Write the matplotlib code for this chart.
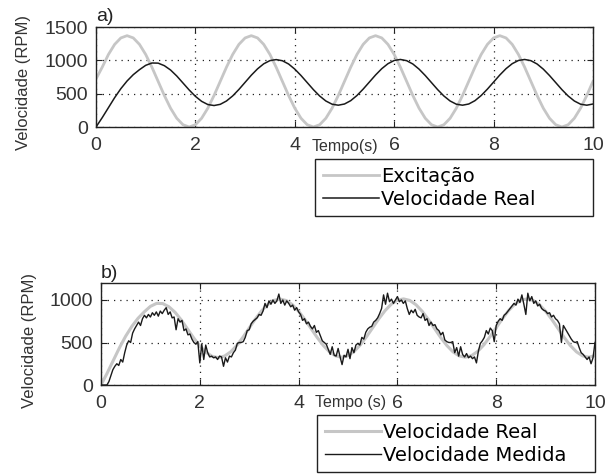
import numpy as np
import matplotlib
matplotlib.use("Agg")
import matplotlib.pyplot as plt
from matplotlib.transforms import blended_transform_factory

# ---- data -------------------------------------------------------------
tempo_a = np.linspace(0, 10, 81)          # 0.125 s sampling

excitacao = [
    720, 897, 1088, 1239, 1336, 1370, 1336, 1239, 1088, 897,
    685, 473, 282, 131, 34, 0, 34, 131, 282, 473,
    685, 897, 1088, 1239, 1336, 1370, 1336, 1239, 1088, 897,
    685, 473, 282, 131, 34, 0, 34, 131, 282, 473,
    685, 897, 1088, 1239, 1336, 1370, 1336, 1239, 1088, 897,
    685, 473, 282, 131, 34, 0, 34, 131, 282, 473,
    685, 897, 1088, 1239, 1336, 1370, 1336, 1239, 1088, 897,
    685, 473, 282, 131, 34, 0, 34, 131, 282, 473,
    685,
]

velocidade_real = [
    0, 140, 290, 440, 575, 690, 785, 860, 925, 960,
    958, 920, 855, 765, 660, 555, 460, 385, 337, 322,
    340, 390, 466, 563, 670, 777, 872, 948, 996, 1011,
    994, 945, 868, 772, 666, 560, 465, 390, 342, 327,
    345, 395, 472, 568, 674, 780, 875, 950, 998, 1013,
    995, 945, 868, 772, 666, 560, 465, 390, 342, 327,
    345, 395, 472, 568, 674, 780, 875, 950, 998, 1013,
    995, 945, 868, 772, 666, 560, 465, 390, 342, 327,
    345,
]

tempo_b = np.linspace(0, 10, 251)         # 0.04 s sampling

velocidade_medida = [
    0, 0, 0, 0, 40, 110, 180, 220, 250, 230, 300, 270, 380, 470, 520, 500, 610, 660, 700, 740, 700, 780, 820, 790, 830,
    800, 850, 820, 860, 810, 870, 840, 880, 910, 830, 860, 790, 800, 650, 780, 740, 760, 640, 660, 590, 600, 540, 500, 480, 510,
    260, 480, 300, 470, 380, 330, 340, 320, 330, 300, 340, 330, 220, 320, 270, 340, 330, 380, 410, 490, 500, 500, 510, 560, 640,
    650, 720, 750, 770, 790, 830, 820, 870, 960, 910, 990, 950, 1000, 960, 990, 1070, 960, 1000, 940, 990, 960, 920, 940, 880, 910,
    860, 830, 760, 780, 720, 740, 690, 660, 700, 620, 640, 580, 520, 500, 480, 420, 360, 450, 350, 340, 430, 330, 240, 350, 330,
    420, 310, 440, 380, 470, 490, 470, 560, 540, 620, 660, 680, 690, 740, 760, 790, 840, 900, 1060, 950, 1080, 980, 1010, 960, 1000,
    1040, 980, 1000, 960, 990, 900, 830, 880, 850, 890, 820, 800, 790, 840, 760, 780, 700, 740, 700, 710, 660, 640, 590, 620, 530,
    510, 500, 500, 510, 380, 440, 340, 450, 360, 330, 370, 320, 340, 310, 330, 260, 400, 490, 520, 560, 640, 600, 670, 640, 510,
    700, 750, 780, 760, 820, 840, 870, 900, 930, 960, 940, 1010, 970, 1060, 950, 830, 1080, 990, 1040, 960, 990, 930, 950, 900, 880,
    870, 840, 850, 800, 820, 780, 760, 720, 500, 700, 660, 620, 580, 540, 510, 500, 510, 440, 380, 360, 330, 300, 330, 250, 320,
    500,
]

x_ticks = [0, 2, 4, 6, 8, 10]
y_ticks_a = [0, 500, 1000, 1500]
y_ticks_b = [0, 500, 1000]

# ---- styling ------------------------------------------------------------
GRAY = "#c6c6c6"
DARK = "#1a1a1a"
EDGE = "#222222"
LABEL = "#333333"
TICK_FONT = "Liberation Sans"
LEGEND_FONT = {"family": "DejaVu Sans", "size": 14}

fig = plt.figure(figsize=(6.14, 4.74), dpi=100)
W, H = 614.0, 474.0


def px_axes(left, top, right, bottom):
    return fig.add_axes([left / W, 1 - bottom / H, (right - left) / W, (bottom - top) / H])


def style(ax, yticks, ylim):
    ax.set_xlim(0, 10)
    ax.set_ylim(*ylim)
    ax.set_xticks(x_ticks)
    ax.set_yticks(yticks)
    ax.tick_params(direction="in", length=4, width=0.8, top=True, right=True,
                   labelsize=14, color=EDGE, labelcolor=LABEL)
    ax.tick_params(axis="x", pad=7)
    ax.tick_params(axis="y", pad=6)
    for lab in ax.get_xticklabels() + ax.get_yticklabels():
        lab.set_fontfamily(TICK_FONT)
    ax.grid(True, color=EDGE, linestyle=(0, (1, 4)), linewidth=0.9)
    for s in ax.spines.values():
        s.set_linewidth(1.0)
        s.set_color(EDGE)


def legend(ax, left, top):
    ax.legend(loc="upper left", bbox_to_anchor=(left / W, 1 - top / H - 0.2, 278 / W, 0.2),
              bbox_transform=fig.transFigure, mode="expand", borderaxespad=0,
              prop=LEGEND_FONT, handlelength=2.9, handletextpad=0.1,
              borderpad=0.4, labelspacing=0.2, fancybox=False, framealpha=1,
              edgecolor=EDGE)


# ---- panel a ------------------------------------------------------------
ax_a = px_axes(96, 27, 593, 127)
ax_a.plot(tempo_a, excitacao, color=GRAY, lw=2.0, label="Excitação")
ax_a.plot(tempo_a, velocidade_real, color=DARK, lw=1.1, label="Velocidade Real")
style(ax_a, y_ticks_a, (0, 1500))
ax_a.set_ylabel("Velocidade (RPM)", fontfamily=TICK_FONT, fontsize=12, color=LABEL)
ax_a.yaxis.set_label_coords(-0.13, 0.445)
tr_a = blended_transform_factory(ax_a.transData, ax_a.transAxes)
ax_a.text(5.0, -0.19, "Tempo(s)", transform=tr_a, ha="center", va="center",
          fontfamily=TICK_FONT, fontsize=11.5, color=LABEL)
ax_a.annotate("a)", xy=(0, 1), xycoords="axes fraction", xytext=(0, 1.5),
              textcoords="offset points", ha="left", va="bottom",
              fontfamily=TICK_FONT, fontsize=14, color=EDGE)
legend(ax_a, 315, 159)

# ---- panel b ------------------------------------------------------------
ax_b = px_axes(101, 283, 595, 385)
ax_b.plot(tempo_a, velocidade_real, color=GRAY, lw=2.2, label="Velocidade Real")
ax_b.plot(tempo_b, velocidade_medida, color=DARK, lw=1.0, label="Velocidade Medida")
style(ax_b, y_ticks_b, (0, 1200))
ax_b.set_ylabel("Velocidade (RPM)", fontfamily=TICK_FONT, fontsize=12, color=LABEL)
ax_b.yaxis.set_label_coords(-0.13, 0.44)
tr_b = blended_transform_factory(ax_b.transData, ax_b.transAxes)
ax_b.text(5.05, -0.167, "Tempo (s)", transform=tr_b, ha="center", va="center",
          fontfamily=TICK_FONT, fontsize=11.5, color=LABEL)
ax_b.annotate("b)", xy=(0, 1), xycoords="axes fraction", xytext=(0, 1),
              textcoords="offset points", ha="left", va="bottom",
              fontfamily=TICK_FONT, fontsize=14, color=EDGE)
legend(ax_b, 317, 415)

fig.savefig("out.png", dpi=100)
